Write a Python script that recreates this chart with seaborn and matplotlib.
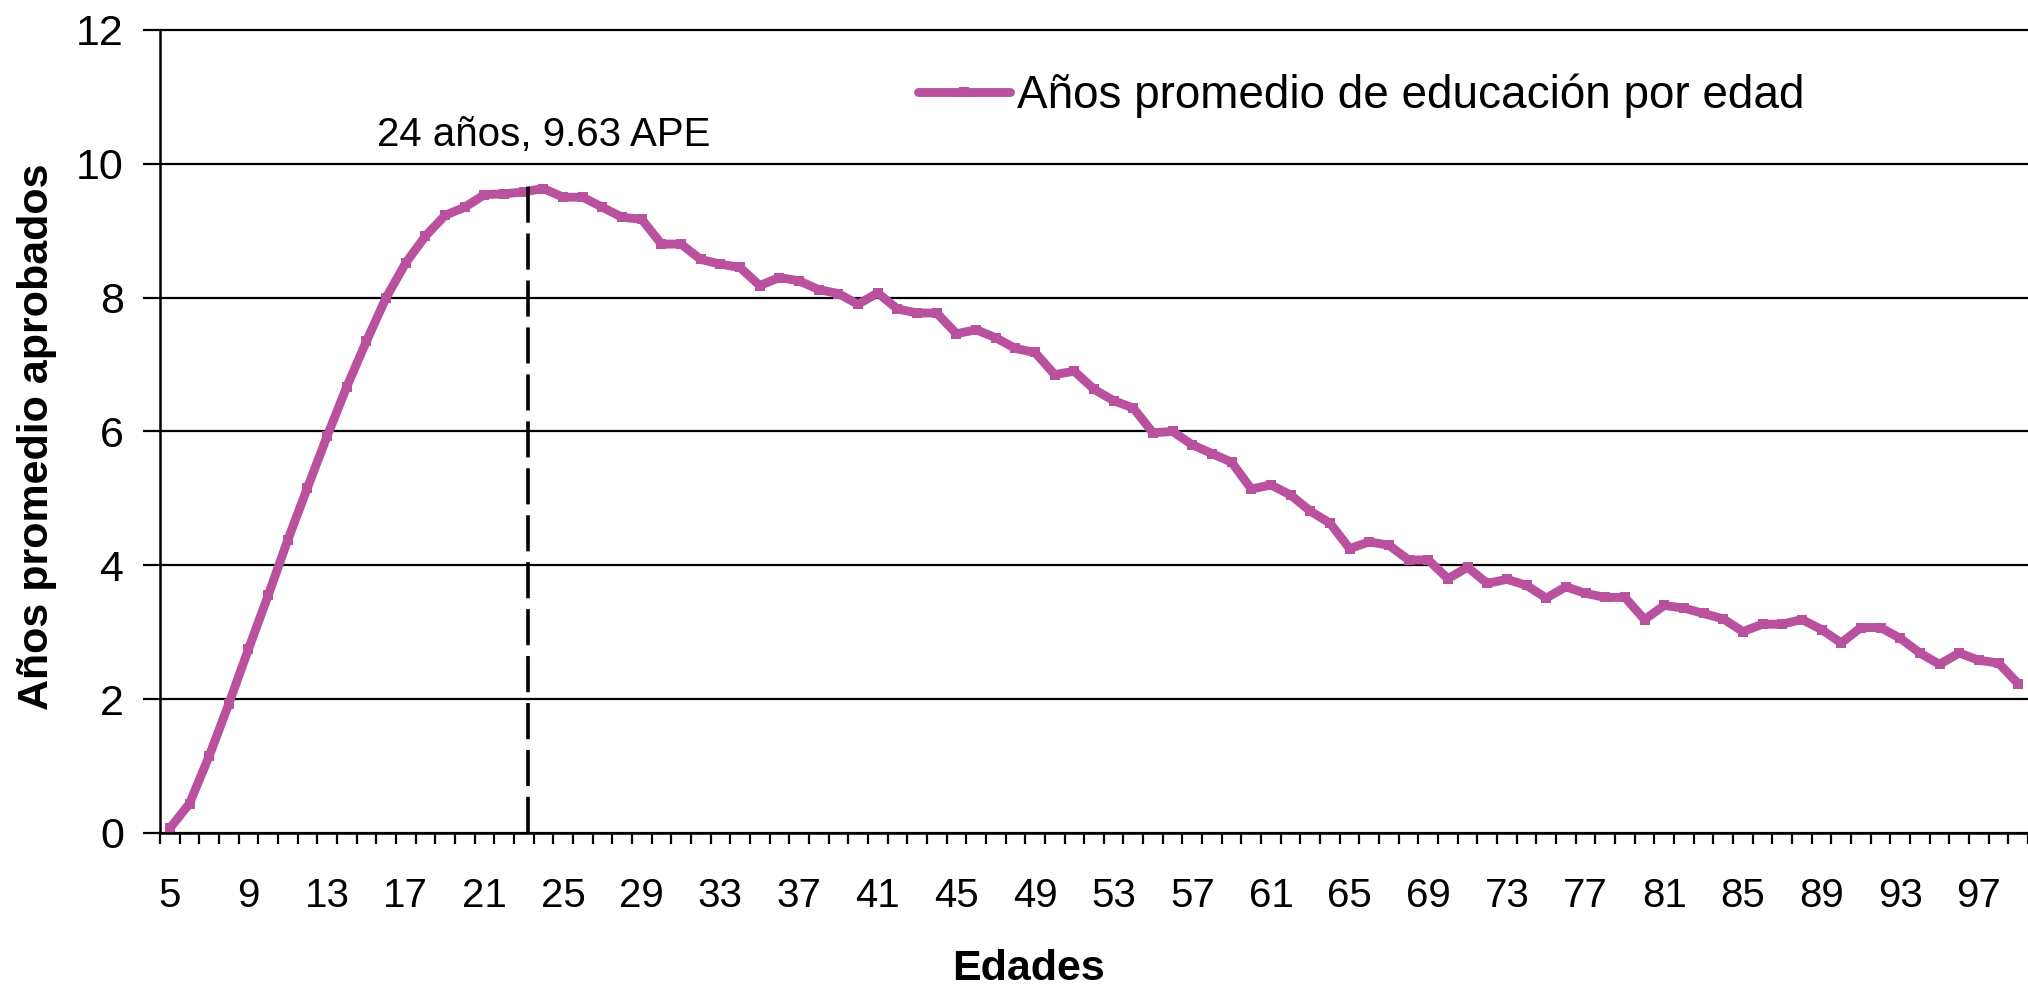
import matplotlib
matplotlib.use("Agg")
import matplotlib.pyplot as plt
import seaborn as sns
import pandas as pd
import numpy as np
from matplotlib.ticker import FixedLocator, NullFormatter, FixedFormatter

# ---------------- data ----------------
ages = list(range(5, 100))
years_edu = [
    0.07, 0.44, 1.15, 1.93, 2.75, 3.55, 4.38, 5.16, 5.93, 6.67,   # 5-14
    7.35, 8.00, 8.52, 8.92, 9.23, 9.35, 9.54, 9.55, 9.58, 9.63,   # 15-24
    9.50, 9.50, 9.35, 9.20, 9.17, 8.80, 8.80, 8.57, 8.50, 8.45,   # 25-34
    8.18, 8.30, 8.25, 8.12, 8.06, 7.90, 8.07, 7.83, 7.77, 7.77,   # 35-44
    7.46, 7.52, 7.40, 7.24, 7.18, 6.85, 6.90, 6.63, 6.46, 6.35,   # 45-54
    5.98, 6.00, 5.80, 5.67, 5.54, 5.14, 5.20, 5.05, 4.81, 4.63,   # 55-64
    4.25, 4.35, 4.30, 4.08, 4.08, 3.80, 3.97, 3.73, 3.79, 3.70,   # 65-74
    3.51, 3.68, 3.58, 3.52, 3.52, 3.19, 3.40, 3.36, 3.28, 3.20,   # 75-84
    3.01, 3.12, 3.12, 3.19, 3.04, 2.84, 3.07, 3.07, 2.91, 2.69,   # 85-94
    2.52, 2.69, 2.58, 2.54, 2.23,                                 # 95-99
]
series_name = "Años promedio de educación por edad"
y_ticks = [0, 2, 4, 6, 8, 10, 12]
x_tick_labels = list(range(5, 98, 4))
peak_age = 24
peak_value = 9.63
annot_text = "24 años, 9.63 APE"
x_title = "Edades"
y_title = "Años promedio aprobados"

df = pd.DataFrame({"Edad": ages, "APE": years_edu, "serie": series_name})

# ---------------- style ----------------
sns.set_theme(style="white")
plt.rcParams["font.family"] = ["Liberation Sans", "DejaVu Sans"]
plt.rcParams.update({
    "text.color": "black",
    "axes.labelcolor": "black",
    "xtick.color": "black",
    "ytick.color": "black",
})

LINE_COLOR = "#B9519F"
LW = 6.4

fig = plt.figure(figsize=(20.28, 9.97), dpi=100)
ax = fig.add_axes([0.0789, 0.1645, 0.9211, 0.8055])

sns.lineplot(data=df, x="Edad", y="APE", hue="serie", palette=[LINE_COLOR],
             marker="s", markersize=6.5, markeredgewidth=0, linewidth=LW,
             ax=ax)

# axes ranges
ax.set_xlim(ages[0] - 0.5, ages[-1] + 0.5)
ax.set_ylim(y_ticks[0], y_ticks[-1])

# y axis: grid + ticks
ax.set_yticks(y_ticks)
ax.yaxis.grid(True, color="black", linewidth=1.6)
ax.xaxis.grid(False)
for gl in ax.get_ygridlines():
    gl.set_clip_on(False)
ax.tick_params(axis="y", which="major", direction="out", length=12, width=1.6,
               color="black", labelsize=31, labelcolor="black", pad=14, left=True)

# x axis: tick marks between categories, labels every 4 years at category centers
bounds = [a - 0.5 for a in ages] + [ages[-1] + 0.5]
ax.xaxis.set_major_locator(FixedLocator(bounds))
ax.xaxis.set_major_formatter(NullFormatter())
ax.xaxis.set_minor_locator(FixedLocator(x_tick_labels))
ax.xaxis.set_minor_formatter(FixedFormatter([str(v) for v in x_tick_labels]))
ax.tick_params(axis="x", which="major", direction="out", length=8, width=1.6,
               color="black", bottom=True)
ax.tick_params(axis="x", which="minor", length=0, labelsize=29,
               labelcolor="black", pad=32, bottom=True)

for s in ["top", "right"]:
    ax.spines[s].set_visible(False)
for s in ["left", "bottom"]:
    ax.spines[s].set_visible(True)
    ax.spines[s].set_color("black")
    ax.spines[s].set_linewidth(1.8)

# axis titles
ax.set_xlabel(x_title, fontsize=31, fontweight="bold", color="black")
ax.set_ylabel(y_title, fontsize=31, fontweight="bold", color="black")
ax.xaxis.set_label_coords(0.4647, -0.169)
ax.xaxis.label.set_va("center")
ax.yaxis.set_label_coords(-0.066, 0.493)
ax.yaxis.label.set_va("center")
ax.yaxis.label.set_ha("center")

# peak annotation: dashed vertical line and label
ax.plot([peak_age - 0.8, peak_age - 0.8], [0, peak_value + 0.13],
        color="black", linewidth=2.6, linestyle=(0, (10, 3)), zorder=4)
ax.text(peak_age, peak_value + 0.80, annot_text, fontsize=29,
        ha="center", va="center", color="black")

# legend
leg = ax.legend(loc="center left", bbox_to_anchor=(0.406, 0.918),
                frameon=False, fontsize=33, handlelength=2.0,
                handletextpad=0.15, borderpad=0, borderaxespad=0)
for t in leg.get_texts():
    t.set_color("black")
for h in leg.get_lines():
    h.set_linewidth(LW)

fig.savefig("out.png", dpi=100)
